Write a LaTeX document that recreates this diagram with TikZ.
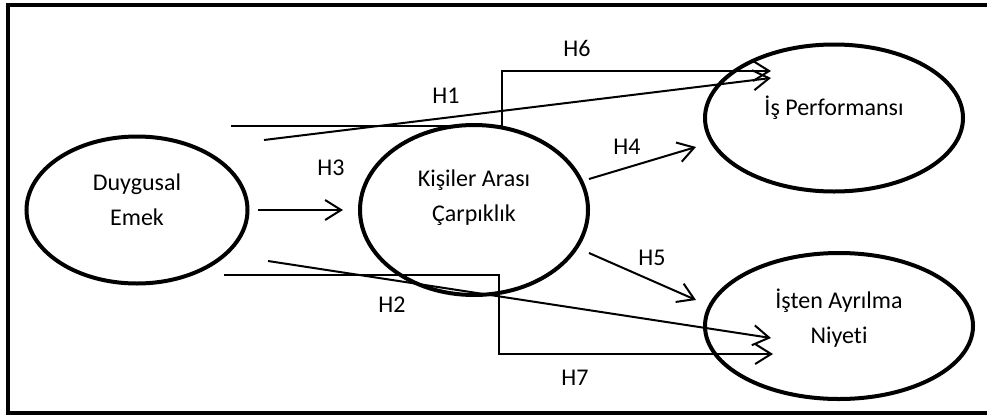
\documentclass[tikz,border=0pt]{standalone}
\usepackage{fontspec}
\setmainfont[Ligatures=NoCommon]{Carlito}
\usetikzlibrary{shapes.geometric,arrows.meta}
\tikzset{
  construct/.style={draw, ellipse, line width=4pt, inner sep=0pt},
  lbl/.style={font=\fontsize{24}{35}\selectfont, align=center, inner sep=0pt},
  path/.style={line width=2pt, line join=miter,
    -{Straight Barb[length=16pt,width=20pt,line width=2pt]}},
}
\begin{document}
\begin{tikzpicture}[x=1pt, y=-1pt]
\useasboundingbox (0,0) rectangle (987,418);

% outer frame (open on the right side)
\draw[line width=4pt, line join=miter] (987,5) -- (8,5) -- (8,413) -- (987,413);

% constructs
\node[construct, minimum width=221pt, minimum height=147pt] (de) at (137,210) {};
\node[construct, minimum width=228pt, minimum height=170pt] (ka) at (474,210) {};
\node[construct, minimum width=258pt, minimum height=147pt] (ip) at (834,118) {};
\node[construct, minimum width=268pt, minimum height=146pt] (ia) at (839,326) {};

\node[lbl] (de-t) at ([yshift=10pt]de.center) {Duygusal\\Emek};
\node[lbl] (ka-t) at ([yshift=12pt]ka.center) {Kişiler Arası\\Çarpıklık};
\node[lbl] (ip-t) at ([yshift=10pt]ip.center) {İş Performansı};
\node[lbl] (ia-t) at ([yshift=8pt]ia.center) {İşten Ayrılma\\Niyeti};

% connector end points
\coordinate (h1s) at (264,140);  \coordinate (h1e) at (771,78);
\coordinate (h6s) at (231,126);  \coordinate (h6e) at (771,71);
\coordinate (h3s) at (258,210);  \coordinate (h3e) at (343,210);
\coordinate (h4s) at (589,179);  \coordinate (h4e) at (696,147);
\coordinate (h5s) at (589,253);  \coordinate (h5e) at (696,300);
\coordinate (h2s) at (268,261);  \coordinate (h2e) at (771,338);
\coordinate (h7s) at (224,275);  \coordinate (h7e) at (773,354);

% paths
\draw[path] (h1s) -- (h1e);
\draw[path] (h6s) -| (502,71) -- (h6e);
\draw[path] (h3s) -- (h3e);
\draw[path] (h4s) -- (h4e);
\draw[path] (h5s) -- (h5e);
\draw[path] (h2s) -- (h2e);
\draw[path] (h7s) -| (499,354) -- (h7e);

% hypothesis labels
\node[lbl] (H1) at (446,96) {H1};
\node[lbl] (H2) at (392,305) {H2};
\node[lbl] (H3) at (331,168) {H3};
\node[lbl] (H4) at (627,147) {H4};
\node[lbl] (H5) at (652,258) {H5};
\node[lbl] (H6) at (577,48) {H6};
\node[lbl] (H7) at (575,378) {H7};
\end{tikzpicture}
\end{document}
